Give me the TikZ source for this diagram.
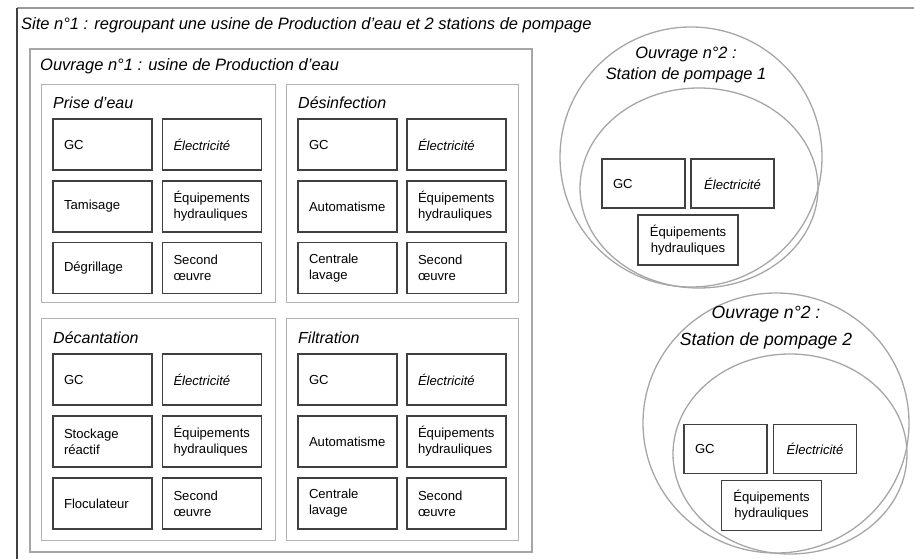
\documentclass[tikz,border=0pt]{standalone}
\usepackage{fontspec}
\setmainfont{Liberation Sans}
\usetikzlibrary{shapes.geometric}
\tikzset{
  grp/.style={draw=black!30, line width=1.4pt, rectangle, anchor=north west, inner sep=0pt},
  ouvbox/.style={draw=black!35, line width=1.8pt, rectangle, anchor=north west, inner sep=0pt},
  ttl/.style={anchor=west, inner sep=0pt, font=\itshape\fontsize{16}{18}\selectfont},
  item/.style={draw=black!75, line width=1.3pt, rectangle, minimum width=99pt, minimum height=51pt,
     text width=77pt, inner xsep=11pt, inner ysep=0pt, align=left, font=\fontsize{13.1}{16}\selectfont},
  sitem/.style={item, minimum width=83pt, minimum height=49pt, text width=61pt, inner xsep=11pt},
  citem/.style={sitem, align=center},
  eitem/.style={item, minimum width=100pt, minimum height=50pt, text width=78pt, align=center},
  ring/.style={draw=black!35, line width=1.3pt, ellipse},
  ctitle/.style={align=center, inner sep=0pt, font=\itshape\fontsize{16.4}{21}\selectfont}
}
\newcommand\elec{\textit{Électricité}}
\newcommand\equip{Équipements\\hydrauliques}
\begin{document}
\begin{tikzpicture}[x=1pt,y=-1pt]
\useasboundingbox (0,0) rectangle (914,559);
% site frame (cropped)
\coordinate (sitebl) at (17,570);
\coordinate (sitetl) at (17,8);
\coordinate (sitetr) at (925,8);
\draw[black!40, line width=1.8pt] (sitetl) -- (sitetr);
\draw[black!75, line width=2.4pt] (sitebl) -- (sitetl);
\node[ttl, font=\itshape\fontsize{16.5}{18}\selectfont] (sitet) at (21,25) {Site n°1 : regroupant une usine de Production d'eau et 2 stations de pompage};

% Ouvrage 1
\node[ouvbox, minimum width=502pt, minimum height=503pt] (ouv1) at (29,48) {};
\node[ttl, font=\itshape\fontsize{16.5}{18}\selectfont] (ouv1t) at (40,66) {Ouvrage n°1 : usine de Production d'eau};

% groups
\node[grp, minimum width=234pt, minimum height=218pt] (g1) at (41,84) {};
\node[grp, minimum width=232pt, minimum height=218pt] (g2) at (286,84) {};
\node[grp, minimum width=234pt, minimum height=222pt] (g3) at (41,318) {};
\node[grp, minimum width=232pt, minimum height=222pt] (g4) at (286,318) {};
\node[ttl] (g1t) at (53,103) {Prise d'eau};
\node[ttl] (g2t) at (298,103) {Désinfection};
\node[ttl] (g3t) at (53,338) {Décantation};
\node[ttl] (g4t) at (298,338) {Filtration};

% Prise d'eau
\node[item] (a1) at (102.5,144.5) {GC};
\node[item] (a2) at (212,144.5) {\elec};
\node[item] (a3) at (102.5,206.5) {Tamisage};
\node[item] (a4) at (212,206.5) {\equip};
\node[item] (a5) at (102.5,268) {Dégrillage};
\node[item] (a6) at (212,268) {Second\\œuvre};
% Désinfection
\node[item] (b1) at (347.5,144.5) {GC};
\node[item] (b2) at (456.5,144.5) {\elec};
\node[item] (b3) at (347.5,206.5) {Automatisme};
\node[item] (b4) at (456.5,206.5) {\equip};
\node[item] (b5) at (347.5,268) {Centrale\\lavage};
\node[item] (b6) at (456.5,268) {Second\\œuvre};
% Décantation
\node[item] (c1) at (102.5,379.5) {GC};
\node[item] (c2) at (212,379.5) {\elec};
\node[item] (c3) at (102.5,441.5) {Stockage\\réactif};
\node[item] (c4) at (212,441.5) {\equip};
\node[item] (c5) at (102.5,503.5) {Floculateur};
\node[item] (c6) at (212,503.5) {Second\\œuvre};
% Filtration
\node[item] (d1) at (347.5,379.5) {GC};
\node[item] (d2) at (456.5,379.5) {\elec};
\node[item] (d3) at (347.5,441.5) {Automatisme};
\node[item] (d4) at (456.5,441.5) {\equip};
\node[item] (d5) at (347.5,503.5) {Centrale\\lavage};
\node[item] (d6) at (456.5,503.5) {Second\\œuvre};

% Station 1
\node[ring, minimum width=262pt, minimum height=260pt] (s1o) at (691,157) {};
\node[ring, minimum width=238pt, minimum height=200pt] (s1i) at (699,188) {};
\node[ctitle] (s1t) at (686,64.5) {Ouvrage n°2 :\\Station de pompage 1};
\node[sitem] (e1) at (643.5,183.5) {GC};
\node[citem] (e2) at (732.5,183.5) {\elec};
\node[eitem] (e3) at (688,240) {\equip};

% Station 2
\node[ring, minimum width=266pt, minimum height=260pt] (s2o) at (776,423) {};
\node[ring, minimum width=234pt, minimum height=200pt] (s2i) at (790,454) {};
\node[ctitle, font=\itshape\fontsize{17.6}{27}\selectfont] (s2t) at (766,328) {Ouvrage n°2 :\\Station de pompage 2};
\node[sitem] (f1) at (725.5,449) {GC};
\node[citem] (f2) at (815,449) {\elec};
\node[eitem] (f3) at (771.5,505.5) {\equip};
\end{tikzpicture}
\end{document}
